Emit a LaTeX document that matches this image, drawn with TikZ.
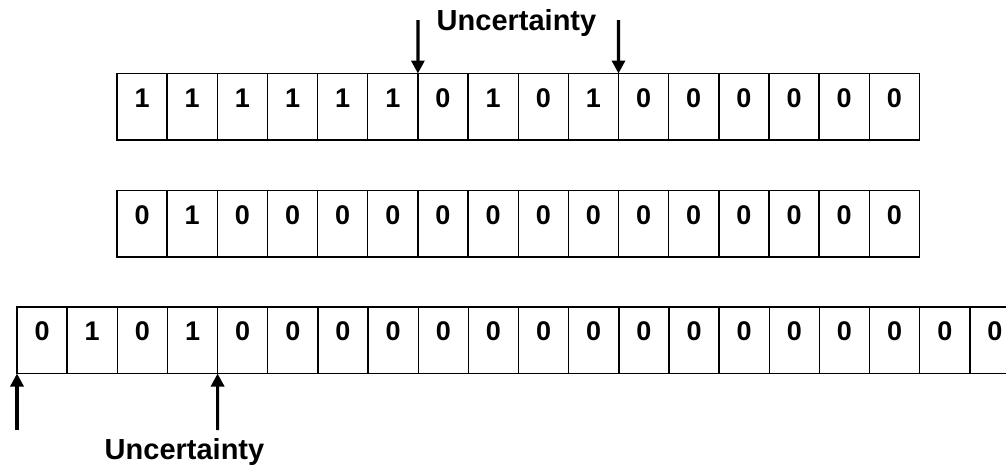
\documentclass[tikz,border=0pt]{standalone}
\usepackage{fontspec}
\setmainfont{Liberation Sans}
\usetikzlibrary{arrows.meta}
\begin{document}
\begin{tikzpicture}[x=1pt,y=-1pt,
  cell/.style={draw=black,line width=1.4pt,minimum width=50.15pt,minimum height=66.5pt,inner sep=0pt,outer sep=0pt,anchor=north west},
  digit/.style={anchor=base,inner sep=0pt,font=\fontsize{27}{31}\selectfont\bfseries},
  lbl/.style={anchor=base,inner sep=0pt,font=\fontsize{29}{33}\selectfont\bfseries},
  arr/.style={line width=3.2pt,-{Triangle[length=13pt,width=13pt]}}]
\useasboundingbox (0,0) rectangle (1006,467);
\clip (0,0) rectangle (1006,467);
% Row 1
\foreach \d [count=\i] in {1,1,1,1,1,1,0,1,0,1,0,0,0,0,0,0}{
  \node[cell] (ra\i) at ({117+(\i-1)*50.15},73.5) {};
  \node[digit] at ([yshift=-33.5pt]ra\i.north) {\d};
}
% Row 2
\foreach \d [count=\i] in {0,1,0,0,0,0,0,0,0,0,0,0,0,0,0,0}{
  \node[cell] (rb\i) at ({117+(\i-1)*50.15},190.5) {};
  \node[digit] at ([yshift=-33.5pt]rb\i.north) {\d};
}
% Row 3
\foreach \d [count=\i] in {0,1,0,1,0,0,0,0,0,0,0,0,0,0,0,0,0,0,0,0}{
  \node[cell] (rc\i) at ({17+(\i-1)*50.15},307) {};
  \node[digit] at ([yshift=-33.5pt]rc\i.north) {\d};
}
% Top labels and arrows
\node[lbl] (ut) at (516.5,30.5) {Uncertainty};
\coordinate (ta1) at (417.9,20);
\coordinate (ta2) at (618.5,20);
\draw[arr] (ta1) -- (ra6.north east);
\draw[arr] (ta2) -- (ra10.north east);
% Bottom labels and arrows
\node[lbl] (ub) at (184.5,459) {Uncertainty};
\coordinate (ba1) at (17,430);
\coordinate (ba2) at (217.6,430);
\draw[arr] (ba1) -- (rc1.south west);
\draw[arr] (ba2) -- (rc4.south east);
\end{tikzpicture}
\end{document}
